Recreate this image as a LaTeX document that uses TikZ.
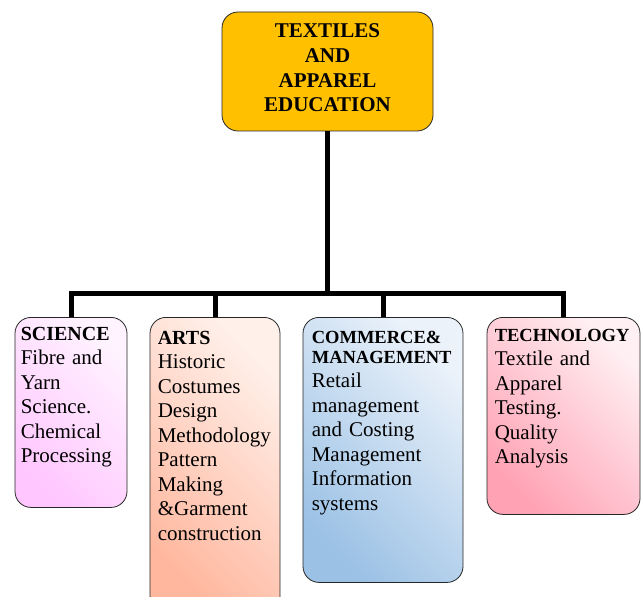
\documentclass[tikz,border=0pt]{standalone}
\usepackage{fontspec}
\setmainfont{Liberation Serif}
\usepackage{tikz}
\usetikzlibrary{calc}
\definecolor{eduYellow}{HTML}{FFC000}
\definecolor{sciLight}{HTML}{FFF3FF}
\definecolor{sciDark}{HTML}{FFC6FF}
\definecolor{artLight}{HTML}{FFF0EA}
\definecolor{artDark}{HTML}{FFB79E}
\definecolor{comLight}{HTML}{EBF2FA}
\definecolor{comDark}{HTML}{9BC1E5}
\definecolor{techLight}{HTML}{FFF0F3}
\definecolor{techDark}{HTML}{FFA2B4}
\newcommand{\cathead}[2][20]{{\fontsize{#1}{24.5}\selectfont\bfseries #2}}

\begin{document}
\begin{tikzpicture}[
  x=1pt, y=-1pt,
  topbox/.style={draw=black!85, line width=0.8pt, rounded corners=16pt, fill=eduYellow,
                 minimum width=211pt, minimum height=119pt},
  catbox/.style={draw=black!85, line width=0.8pt, rounded corners=16pt, anchor=north,
                 shading=axis, top color=#1Light, bottom color=#1Dark, shading angle=-45},
  boxtext/.style={anchor=base west, inner sep=0pt, text width=#1, align=left,
                  font=\fontsize{21}{24.5}\selectfont},
  branch/.style={line width=5pt}
]
\useasboundingbox (0,0) rectangle (644,596);

\node[topbox] (edu) at (327.5,71.5) {};
\node[align=center, inner sep=0pt, font=\fontsize{21}{24.7}\selectfont\bfseries]
  (eduText) at (327.5,68) {TEXTILES\\AND\\APPAREL\\EDUCATION};

\node[catbox=sci, minimum width=112pt, minimum height=190pt] (science) at (71,317) {};
\node[catbox=art, minimum width=130pt, minimum height=295pt] (arts) at (215,317) {};
\node[catbox=com, minimum width=160pt, minimum height=265pt] (commerce) at (383,317) {};
\node[catbox=tech, minimum width=153pt, minimum height=197pt] (tech) at (563.5,317) {};

\node[boxtext=104pt] (scienceText) at ([shift={(6,23)}]science.north west)
  {\cathead{SCIENCE}\\Fibre and\\Yarn\\Science.\\Chemical\\Processing};
\node[boxtext=120pt] (artsText) at ([shift={(8,27)}]arts.north west)
  {\cathead{ARTS}\\Historic\\Costumes\\Design\\Methodology\\Pattern\\Making\\\&Garment\\construction};
\node[boxtext=150pt] (commerceText) at ([shift={(9,26)}]commerce.north west)
  {\cathead[18.5]{COMMERCE\&}\\[-4.5pt]\cathead[18.5]{MANAGEMENT}\\Retail\\management\\and Costing\\Management\\Information\\systems};
\node[boxtext=145pt] (techText) at ([shift={(8,24)}]tech.north west)
  {\cathead[18.5]{TECHNOLOGY}\\Textile and\\Apparel\\Testing.\\Quality\\Analysis};

\coordinate (hub) at (edu.south |- 0,293);
\draw[branch] (edu.south) -- (hub);
\draw[branch] (science.north) |- (hub) -| (tech.north);
\draw[branch] (arts.north) -- (arts.north |- hub);
\draw[branch] (commerce.north) -- (commerce.north |- hub);
\end{tikzpicture}
\end{document}
